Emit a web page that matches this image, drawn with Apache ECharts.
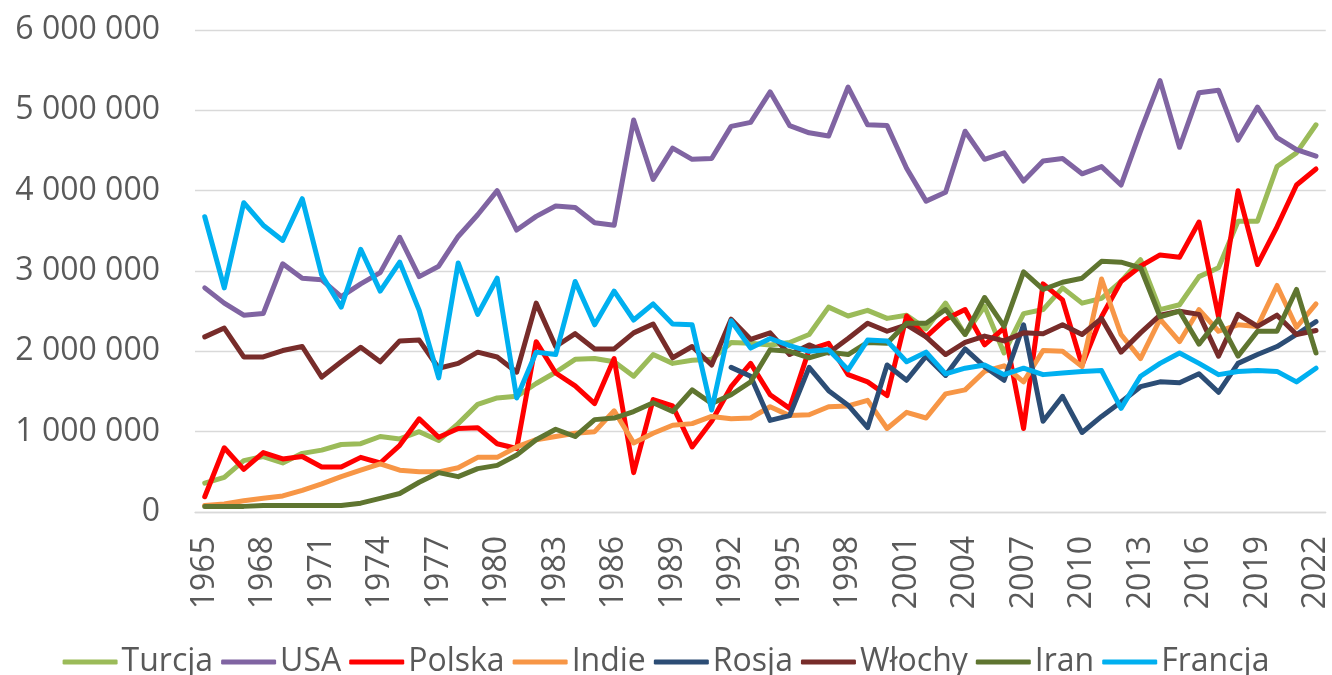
<!DOCTYPE html>
<html>
<head>
<meta charset="utf-8">
<script src="https://cdn.jsdelivr.net/npm/echarts@6/dist/echarts.min.js"></script>
<style>
html,body{margin:0;padding:0;background:#fff;}
#chart{width:1332px;height:675px;}
</style>
</head>
<body>
<div id="chart"></div>
<script>
const years = [];
for (let y = 1965; y <= 2022; y++) years.push(String(y));

const seriesNames = ['Turcja','USA','Polska','Indie','Rosja','Włochy','Iran','Francja'];
const seriesColors = ['#9BBB59','#8064A2','#FF0000','#F79646','#2C4D75','#772C2A','#5F7530','#00B0F0'];

const turcja = [360000,430000,640000,690000,610000,730000,770000,840000,850000,940000,
 910000,1000000,890000,1100000,1340000,1420000,1440000,1600000,1740000,1900000,
 1910000,1870000,1690000,1960000,1850000,1890000,1900000,2110000,2100000,2080000,
 2110000,2210000,2550000,2440000,2510000,2410000,2450000,2280000,2600000,2210000,
 2560000,1980000,2470000,2520000,2790000,2600000,2660000,2870000,3140000,2520000,
 2580000,2930000,3040000,3620000,3620000,4300000,4470000,4820000];
const usa = [2790000,2600000,2450000,2470000,3090000,2910000,2890000,2680000,2840000,2980000,
 3420000,2930000,3060000,3430000,3700000,4000000,3510000,3680000,3810000,3790000,
 3600000,3570000,4880000,4140000,4530000,4390000,4400000,4800000,4850000,5230000,
 4810000,4720000,4680000,5290000,4820000,4810000,4280000,3870000,3980000,4740000,
 4390000,4470000,4120000,4370000,4400000,4210000,4300000,4070000,4740000,5370000,
 4540000,5220000,5250000,4630000,5040000,4660000,4510000,4430000];
const polska = [190000,800000,530000,740000,660000,690000,560000,560000,680000,610000,
 830000,1160000,930000,1040000,1050000,850000,790000,2120000,1730000,1570000,
 1350000,1910000,490000,1400000,1320000,810000,1130000,1560000,1850000,1460000,
 1290000,2020000,2100000,1710000,1620000,1450000,2440000,2180000,2400000,2520000,
 2080000,2290000,1040000,2840000,2640000,1830000,2430000,2870000,3060000,3200000,
 3170000,3610000,2430000,4000000,3080000,3550000,4070000,4270000];
const indie = [80000,100000,140000,170000,200000,270000,350000,440000,520000,600000,
 520000,500000,500000,550000,680000,680000,810000,900000,940000,980000,
 1000000,1260000,860000,980000,1080000,1100000,1190000,1160000,1170000,1310000,
 1200000,1210000,1310000,1320000,1390000,1040000,1240000,1170000,1470000,1520000,
 1750000,1820000,1620000,2010000,2000000,1810000,2900000,2210000,1910000,2400000,
 2120000,2520000,2250000,2330000,2310000,2820000,2300000,2590000];
const rosja = [null,null,null,null,null,null,null,null,null,null,
 null,null,null,null,null,null,null,null,null,null,
 null,null,null,null,null,null,null,1800000,1690000,1140000,
 1200000,1800000,1510000,1330000,1050000,1830000,1640000,1940000,1700000,2030000,
 1810000,1640000,2330000,1130000,1440000,990000,1190000,1370000,1560000,1620000,
 1610000,1720000,1490000,1850000,1960000,2060000,2210000,2370000];
const wlochy = [2180000,2290000,1930000,1930000,2010000,2060000,1680000,1870000,2050000,1870000,
 2130000,2140000,1790000,1850000,1990000,1930000,1740000,2600000,2060000,2220000,
 2030000,2030000,2230000,2340000,1920000,2060000,1830000,2400000,2150000,2230000,
 1960000,2080000,1980000,2160000,2350000,2250000,2330000,2180000,1960000,2110000,
 2190000,2130000,2230000,2220000,2330000,2210000,2410000,1990000,2230000,2450000,
 2500000,2460000,1940000,2460000,2310000,2450000,2210000,2260000];
const iran = [70000,70000,70000,80000,80000,80000,80000,80000,110000,170000,
 230000,370000,490000,440000,540000,580000,710000,900000,1030000,940000,
 1150000,1170000,1250000,1360000,1250000,1520000,1350000,1460000,1620000,2020000,
 2000000,1920000,1990000,1960000,2110000,2100000,2350000,2350000,2520000,2210000,
 2670000,2310000,2990000,2770000,2860000,2910000,3120000,3110000,3040000,2430000,
 2500000,2090000,2400000,1940000,2250000,2250000,2770000,1980000];
const francja = [3675000,2790000,3850000,3570000,3380000,3900000,2950000,2550000,3270000,2750000,
 3110000,2510000,1670000,3100000,2460000,2910000,1420000,1990000,1960000,2870000,
 2330000,2750000,2390000,2590000,2340000,2330000,1270000,2380000,2040000,2160000,
 2070000,2000000,2020000,1770000,2140000,2130000,1870000,1990000,1720000,1790000,
 1830000,1710000,1790000,1710000,1730000,1750000,1760000,1290000,1690000,1850000,
 1980000,1850000,1710000,1750000,1760000,1750000,1620000,1790000];

const yMin = 0, yMax = 6000000, yStep = 1000000;
const seriesData = [turcja, usa, polska, indie, rosja, wlochy, iran, francja];

const FONT = '"Open Sans", "Noto Sans", sans-serif';
const TXT = '#595959';

const fmt = v => String(v).replace(/\B(?=(\d{3})+(?!\d))/g, ' ');

const chart = echarts.init(document.getElementById('chart'), null, {renderer: 'canvas'});
chart.setOption({
  animation: false,
  backgroundColor: '#ffffff',
  textStyle: {fontFamily: FONT},
  grid: {left: 195, right: 6, top: 30, bottom: 163, containLabel: false},
  legend: {
    data: seriesNames,
    left: 'center',
    top: 641,
    icon: 'roundRect',
    itemWidth: 55,
    itemHeight: 5,
    itemGap: 8,
    textStyle: {color: TXT, fontSize: 32, fontFamily: FONT, padding: [0,0,0,-1]}
  },
  xAxis: {
    type: 'category',
    data: years,
    boundaryGap: true,
    axisLine: {show: true, lineStyle: {color: '#D9D9D9', width: 1.3}},
    axisTick: {show: false},
    axisLabel: {
      interval: 2,
      rotate: 90,
      margin: 24,
      color: TXT,
      fontSize: 32,
      fontFamily: FONT
    },
    splitLine: {show: false}
  },
  yAxis: {
    type: 'value',
    min: yMin,
    max: yMax,
    interval: yStep,
    axisLine: {show: false},
    axisTick: {show: false},
    axisLabel: {
      formatter: fmt,
      margin: 35,
      color: TXT,
      fontSize: 32,
      fontFamily: FONT
    },
    splitLine: {lineStyle: {color: '#D9D9D9', width: 1.3}}
  },
  series: seriesNames.map((name, i) => ({
    name: name,
    type: 'line',
    data: seriesData[i],
    symbol: 'none',
    showSymbol: false,
    connectNulls: false,
    color: seriesColors[i],
    lineStyle: {color: seriesColors[i], width: 5, join: 'round', cap: 'round'},
    emphasis: {disabled: true}
  }))
});
</script>
</body>
</html>
